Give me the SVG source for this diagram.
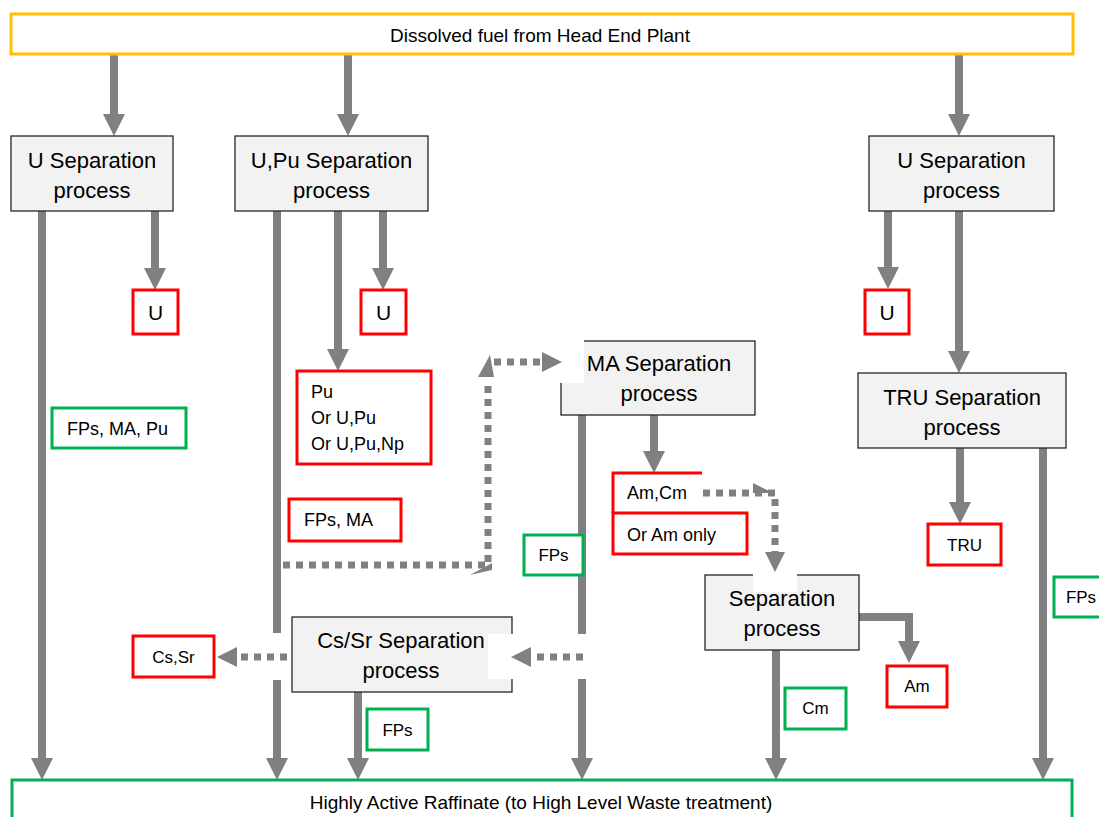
<svg xmlns="http://www.w3.org/2000/svg" width="1099" height="817" viewBox="0 0 1099 817">
<defs>
<style>
text{font-family:"Liberation Sans",Arial,sans-serif;fill:#000;dominant-baseline:central}
.proc{fill:#F2F2F2;stroke:#262626;stroke-width:1.3}
.red{fill:#fff;stroke:#FF0000;stroke-width:3}
.grn{fill:#fff;stroke:#00B050;stroke-width:3}
.pl{font-size:22px;text-anchor:middle}
.lb{font-size:18px}
.sm{font-size:17px;text-anchor:middle}
.big{font-size:21px;text-anchor:middle}
.ln{stroke:#808080;stroke-width:8;fill:none}
.dt{stroke:#808080;stroke-width:7;fill:none;stroke-dasharray:7 6}
.hd{fill:#808080}
</style>
<marker id="ah" viewBox="0 0 22 22" refX="0" refY="11" markerWidth="22" markerHeight="22" markerUnits="userSpaceOnUse" orient="auto"><path d="M0,0 L22,11 L0,22 Z" fill="#808080"/></marker>
<marker id="ad" viewBox="0 0 20 20" refX="0" refY="10" markerWidth="20" markerHeight="20" markerUnits="userSpaceOnUse" orient="auto"><path d="M0,0 L20,10 L0,20 Z" fill="#808080"/></marker>
</defs>
<rect width="1099" height="817" fill="#fff"/>

<g id="connectors">
<line class="ln" x1="114" y1="55" x2="114" y2="114" marker-end="url(#ah)"/>
<line class="ln" x1="348" y1="55" x2="348" y2="114" marker-end="url(#ah)"/>
<line class="ln" x1="959" y1="55" x2="959" y2="114" marker-end="url(#ah)"/>
<line class="ln" x1="42" y1="211" x2="42" y2="758" marker-end="url(#ah)"/>
<line class="ln" x1="155" y1="211" x2="155" y2="268" marker-end="url(#ah)"/>
<line class="ln" x1="277" y1="211" x2="277" y2="633"/>
<line class="ln" x1="277" y1="680" x2="277" y2="758" marker-end="url(#ah)"/>
<line class="ln" x1="338" y1="211" x2="338" y2="349" marker-end="url(#ah)"/>
<line class="ln" x1="383" y1="211" x2="383" y2="268" marker-end="url(#ah)"/>
<line class="ln" x1="888" y1="211" x2="888" y2="267" marker-end="url(#ah)"/>
<line class="ln" x1="959" y1="211" x2="959" y2="351" marker-end="url(#ah)"/>
<line class="ln" x1="582" y1="415" x2="582" y2="634"/>
<line class="ln" x1="582" y1="679" x2="582" y2="758" marker-end="url(#ah)"/>
<line class="ln" x1="654" y1="415" x2="654" y2="451" marker-end="url(#ah)"/>
<line class="ln" x1="960" y1="448" x2="960" y2="502" stroke-width="9" marker-end="url(#ah)"/>
<line class="ln" x1="1043" y1="447" x2="1043" y2="758" marker-end="url(#ah)"/>
<line class="ln" x1="358" y1="692" x2="358" y2="758" stroke-width="9" marker-end="url(#ah)"/>
<line class="ln" x1="776" y1="650" x2="776" y2="758" stroke-width="9" marker-end="url(#ah)"/>
<path class="ln" d="M859,617 H909 V641" marker-end="url(#ah)"/>
</g>

<g id="top-feed"><rect x="11" y="14" width="1062" height="40" fill="#fff" stroke="#FFC000" stroke-width="3"/><text x="540" y="35" style="font-size:19px;text-anchor:middle">Dissolved fuel from Head End Plant</text></g>

<g id="u-sep-1"><rect class="proc" x="11" y="136" width="162" height="75"/><text class="pl" x="92" y="160">U Separation</text><text class="pl" x="92" y="190">process</text></g>
<g id="upu-sep"><rect class="proc" x="235" y="136" width="193" height="75"/><text class="pl" x="331.5" y="160">U,Pu Separation</text><text class="pl" x="331.5" y="190">process</text></g>
<g id="u-sep-2"><rect class="proc" x="869" y="136" width="185" height="75"/><text class="pl" x="961.5" y="160">U Separation</text><text class="pl" x="961.5" y="190">process</text></g>

<g id="u-1"><rect class="red" x="133" y="290" width="45" height="44"/><text class="big" x="155.5" y="312">U</text></g>
<g id="u-2"><rect class="red" x="361" y="290" width="45" height="44"/><text class="big" x="383.5" y="312">U</text></g>
<g id="u-3"><rect class="red" x="865" y="290" width="44" height="44"/><text class="big" x="887" y="312">U</text></g>

<g id="fps-ma-pu"><rect class="grn" x="52" y="408" width="134" height="40"/><text class="lb" x="67" y="429">FPs, MA, Pu</text></g>
<g id="pu-out"><rect class="red" x="297" y="371" width="134" height="93"/><text class="lb" x="311" y="392">Pu</text><text class="lb" x="311" y="418">Or U,Pu</text><text class="lb" x="311" y="444">Or U,Pu,Np</text></g>
<g id="fps-ma"><rect class="red" x="289" y="499" width="112" height="42"/><text class="lb" x="304" y="520">FPs, MA</text></g>

<g id="ma-sep"><rect class="proc" x="561" y="341" width="194" height="74"/><rect x="560" y="340" width="24" height="43" fill="#fff"/><text class="pl" x="659" y="363">MA Separation</text><text class="pl" x="659" y="393">process</text></g>
<g id="fps-ma-line"><rect class="grn" x="524" y="535" width="59" height="40"/><text class="sm" x="553.5" y="555">FPs</text></g>

<g id="amcm"><path d="M702,473 H613 V513" fill="none" stroke="#FF0000" stroke-width="3"/><text class="lb" x="627" y="493">Am,Cm</text></g>
<g id="am-only"><rect class="red" x="613" y="513" width="134" height="41"/><text class="lb" x="627" y="535">Or Am only</text></g>

<g id="tru-sep"><rect class="proc" x="858" y="373" width="208" height="75"/><text class="pl" x="962" y="397">TRU Separation</text><text class="pl" x="962" y="427">process</text></g>
<g id="tru"><rect class="red" x="928" y="524" width="73" height="41"/><text class="sm" x="964.5" y="545">TRU</text></g>
<g id="fps-right"><rect class="grn" x="1054" y="577" width="52" height="40"/><text class="sm" x="1081" y="597">FPs</text></g>

<g id="sep"><rect class="proc" x="705" y="575" width="154" height="75"/><rect x="753" y="573" width="44" height="19" fill="#fff"/><text class="pl" x="782" y="598">Separation</text><text class="pl" x="782" y="628">process</text></g>
<g id="am"><rect class="red" x="887" y="666" width="60" height="41"/><text class="sm" x="917" y="686">Am</text></g>
<g id="cm"><rect class="grn" x="785" y="688" width="61" height="41"/><text class="sm" x="815.5" y="708">Cm</text></g>

<g id="cssr-sep"><rect class="proc" x="292" y="617" width="220" height="75"/><rect x="488" y="634" width="26" height="45" fill="#fff"/><text class="pl" x="401" y="640">Cs/Sr Separation</text><text class="pl" x="401" y="670">process</text></g>
<g id="cssr"><rect class="red" x="133" y="636" width="81" height="41"/><text class="sm" x="173.5" y="657">Cs,Sr</text></g>
<g id="fps-cssr"><rect class="grn" x="367" y="709" width="61" height="41"/><text class="sm" x="397.5" y="730">FPs</text></g>

<g id="raffinate"><rect x="12" y="780" width="1060" height="60" fill="#fff" stroke="#00B050" stroke-width="3"/><text x="541" y="802" style="font-size:19px;text-anchor:middle">Highly Active Raffinate (to High Level Waste treatment)</text></g>

<g id="connectors-dotted">
<path class="dt" d="M283,565 H488 V383"/>
<polygon class="hd" points="470,575 492,563 492,570"/>
<polygon class="hd" points="478,377 490,355 494,377"/>
<path class="dt" d="M494,362 H542" marker-end="url(#ad)"/>
<path class="dt" d="M703,493 H775 V552" marker-end="url(#ad)"/>
<polygon class="hd" points="753,483 773,493 753,493"/>
<line class="dt" x1="583" y1="657" x2="531" y2="657" marker-end="url(#ad)"/>
<line class="dt" x1="287" y1="657" x2="237" y2="657" marker-end="url(#ad)"/>
</g>
</svg>
